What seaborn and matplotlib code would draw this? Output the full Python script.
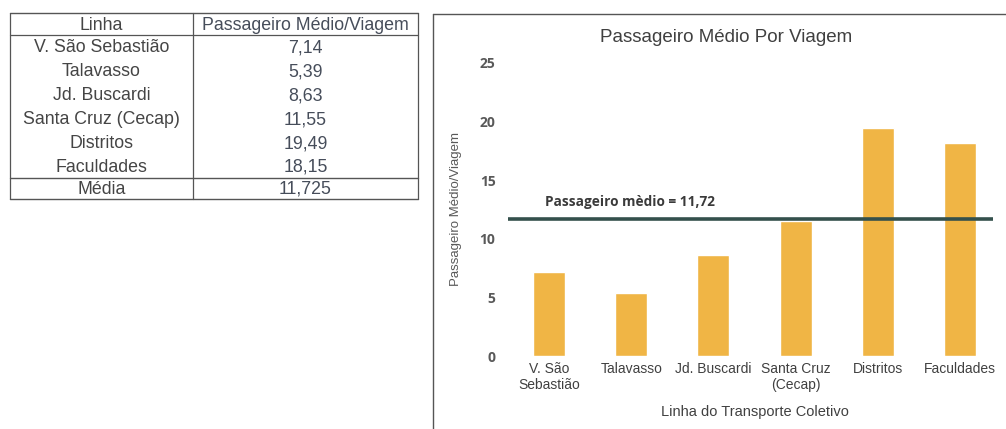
import numpy as np
import matplotlib
matplotlib.use("Agg")
import matplotlib.pyplot as plt
import seaborn as sns
import pandas as pd

# ---------------------- data ----------------------
linhas = ["V. São Sebastião", "Talavasso", "Jd. Buscardi",
          "Santa Cruz (Cecap)", "Distritos", "Faculdades"]
passageiros = [7.14, 5.39, 8.63, 11.55, 19.49, 18.15]
passageiros_txt = ["7,14", "5,39", "8,63", "11,55", "19,49", "18,15"]
media = 11.725
media_txt = "11,725"
rotulos_x = ["V. São\nSebastião", "Talavasso", "Jd. Buscardi",
             "Santa Cruz\n(Cecap)", "Distritos", "Faculdades"]
y_ticks = [0, 5, 10, 15, 20, 25]

BAR_COLOR = "#F0B545"
LINE_COLOR = "#34504C"
GRAY = "#595959"

sns.set_style("white")
plt.rcParams["font.family"] = ["Liberation Sans", "DejaVu Sans"]

W, H = 1006, 429
fig = plt.figure(figsize=(W / 100, H / 100), dpi=100)

# background axes in pixel coordinates (table + chart frame)
bg = fig.add_axes([0, 0, 1, 1])
bg.set_xlim(0, W)
bg.set_ylim(H, 0)
bg.axis("off")

# ---------------------- table ----------------------
x0, xm, x1 = 10, 193, 418
row_tops = [13, 35, 59, 83, 107, 131, 155, 178, 199]
lc = "#555555"
bg.plot([x0, x1], [row_tops[0]] * 2, color=lc, lw=1.0)
bg.plot([x0, x1], [row_tops[1]] * 2, color=lc, lw=0.9)
bg.plot([x0, x1], [row_tops[7]] * 2, color=lc, lw=1.0)
bg.plot([x0, x1], [row_tops[8]] * 2, color=lc, lw=1.0)
for xx in (x0, xm, x1):
    bg.plot([xx, xx], [row_tops[0], row_tops[8]], color=lc, lw=0.9)

tfs = 12.8
cells = [("Linha", "Passageiro Médio/Viagem")] + \
        list(zip(linhas, passageiros_txt)) + [("Média", media_txt)]
for i, (a, b) in enumerate(cells):
    yc = (row_tops[i] + row_tops[i + 1]) / 2 + 1
    bg.text((x0 + xm) / 2, yc, a, ha="center", va="center",
            fontsize=tfs, color="#454545")
    bg.text((xm + x1) / 2, yc, b, ha="center", va="center",
            fontsize=tfs, color="#464d5a")

# chart frame (only left & top visible)
bg.plot([433, 433], [14, H + 5], color="#555555", lw=1.0)
bg.plot([433, W + 5], [14, 14], color="#555555", lw=1.0)

# ---------------------- chart ----------------------
ax_l, ax_r = 508, 1001
ax_top, ax_bot = 63, 356
ax = fig.add_axes([ax_l / W, (H - ax_bot) / H, (ax_r - ax_l) / W, (ax_bot - ax_top) / H])
ax.patch.set_alpha(0)

df = pd.DataFrame({"linha": rotulos_x, "valor": passageiros})
sns.barplot(data=df, x="linha", y="valor", color=BAR_COLOR, width=0.39,
            saturation=1, ax=ax)
ax.hlines(media, -0.5, 5.4, color=LINE_COLOR, lw=2.6, zorder=5)
ax.text(-0.05, media + 1.45, f"Passageiro mèdio = {media:.2f}".replace(".", ","),
        fontsize=9.8, fontweight="bold", color="#3a3a3a", va="center", ha="left",
        family=["Open Sans", "DejaVu Sans"])

ax.set_xlim(-0.5, 5.5)
ax.set_ylim(0, 25)
ax.set_yticks(y_ticks)
ax.set_yticklabels([str(t) for t in y_ticks], fontsize=10, color=GRAY,
                   fontweight="bold", family=["Open Sans", "DejaVu Sans"])
ax.set_xticks(range(len(rotulos_x)))
ax.set_xticklabels(rotulos_x, fontsize=10, color="#404040", linespacing=1.25)
ax.tick_params(axis="y", length=0, pad=9)
ax.tick_params(axis="x", length=0, pad=4)
for s in ax.spines.values():
    s.set_visible(False)
ax.set_xlabel("Linha do Transporte Coletivo", fontsize=10.5, color="#404040", labelpad=9)
ax.set_ylabel("Passageiro Médio/Viagem", fontsize=9.5, color=GRAY, labelpad=13)

fig.text(726 / W, 1 - 38 / H, "Passageiro Médio Por Viagem", ha="center", va="center",
         fontsize=13.5, color="#404040")

fig.savefig("out.png", dpi=100)
